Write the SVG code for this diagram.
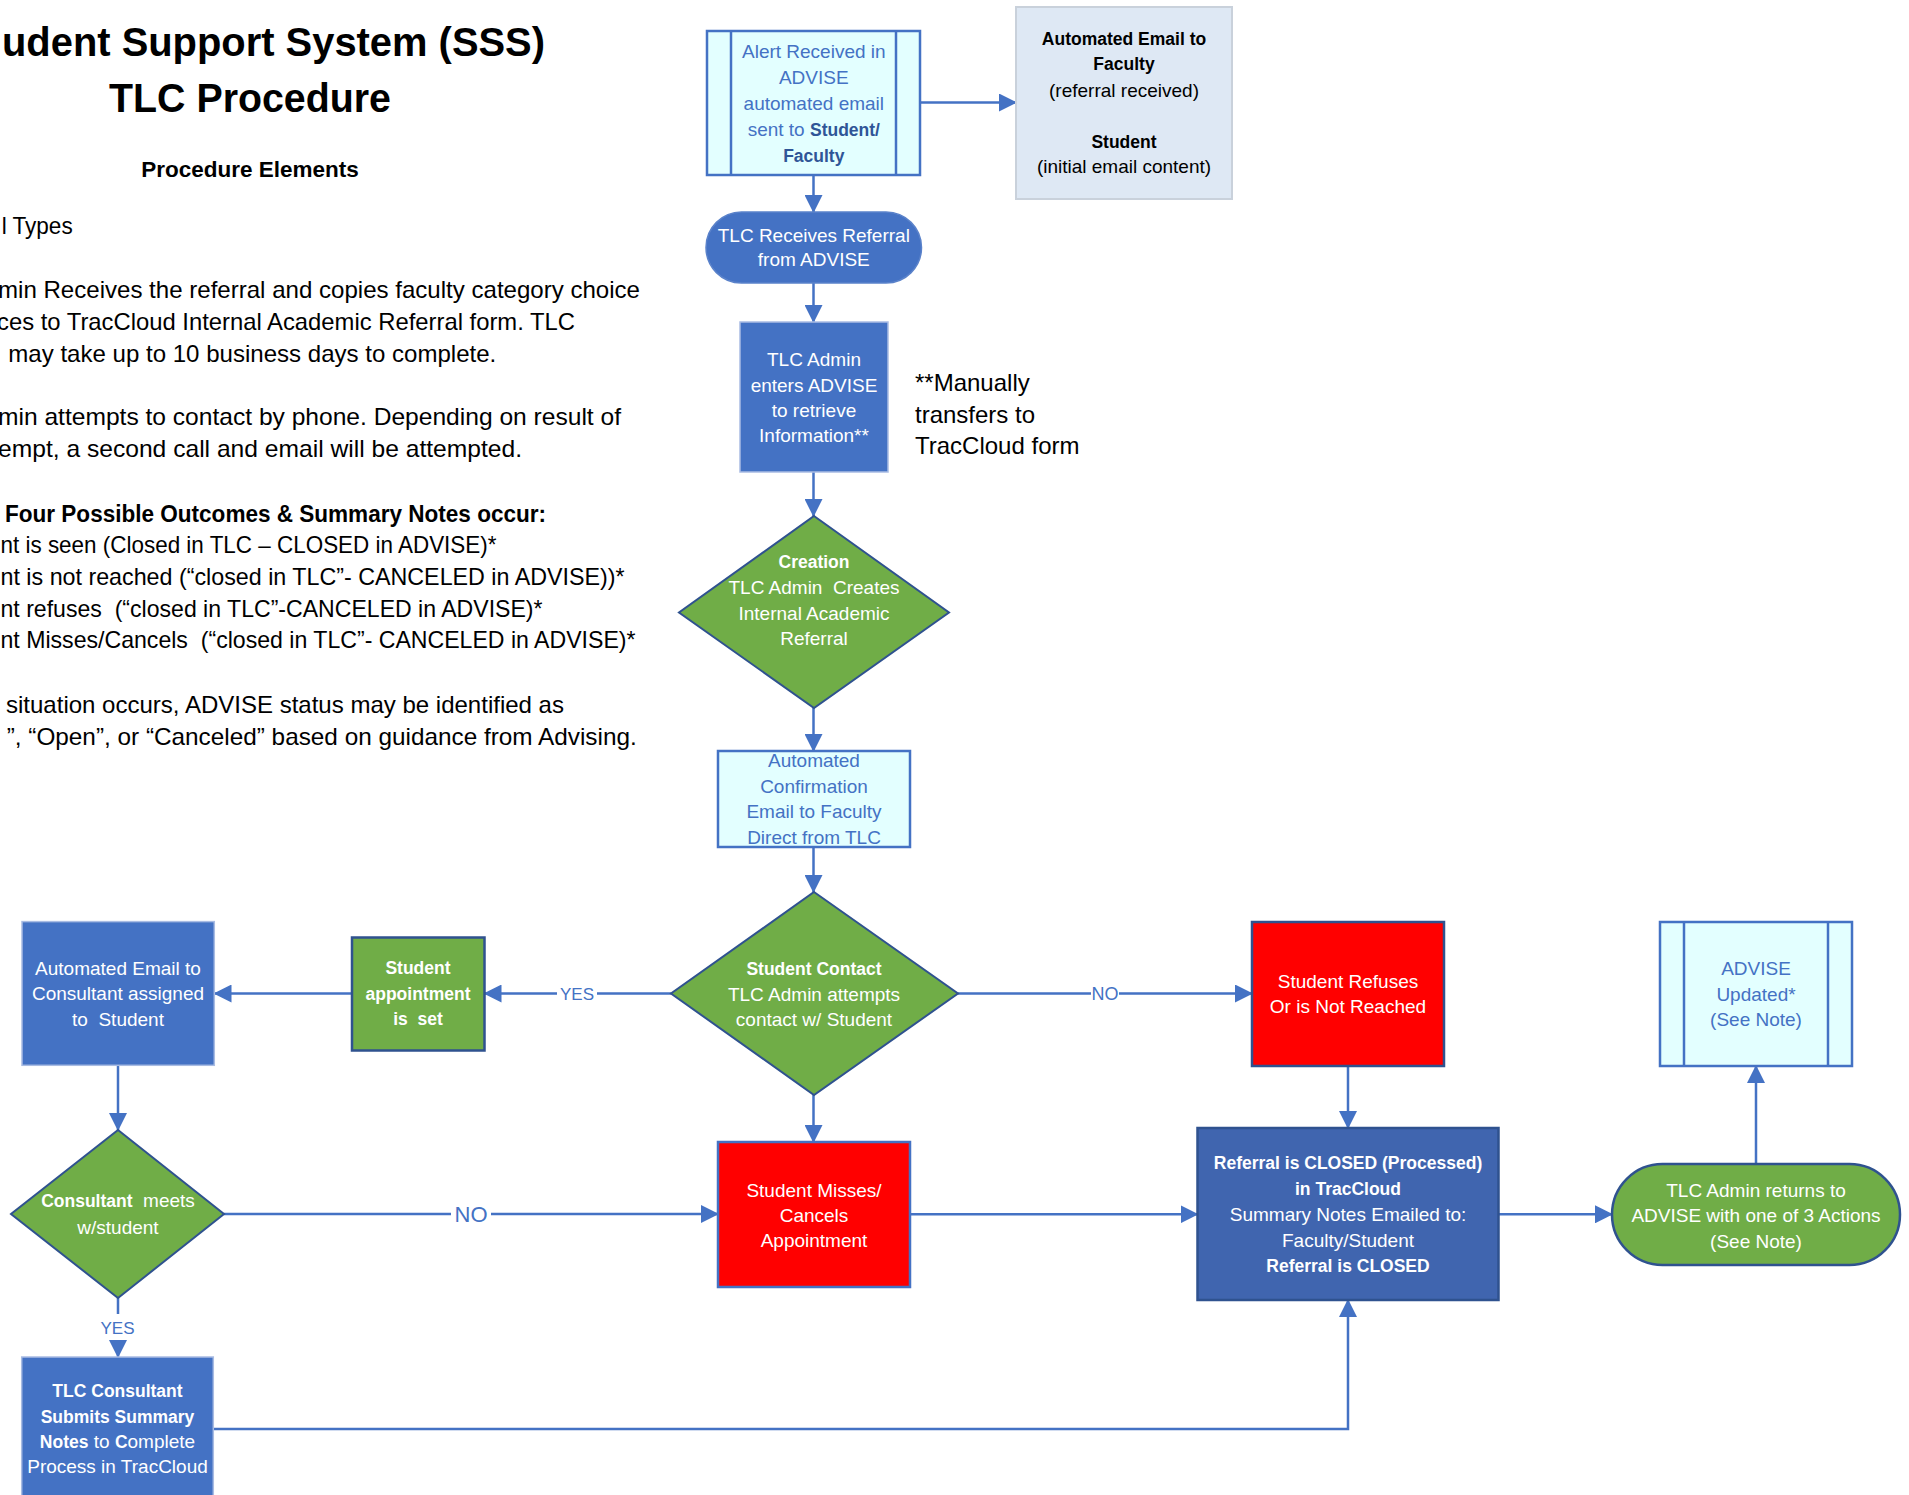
<svg xmlns="http://www.w3.org/2000/svg" width="1909" height="1495" viewBox="0 0 1909 1495">
<style>
text { font-family: "Liberation Sans", Arial, sans-serif; white-space: pre; }
.lt { font-size: 24px; fill: #000; }
.nt { font-size: 19px; text-anchor: middle; }
.b { font-weight: bold; font-size: 17.5px; }
.w { fill: #fff; }
.bl { fill: #4472C4; }
.db { fill: #2F5597; }
.k { fill: #000; }
.conn { stroke: #4472C4; stroke-width: 2.5; fill: none; marker-end: url(#ah); }
.lbl { fill: #4472C4; text-anchor: middle; }
.cyan { fill: #E3FFFF; stroke: #4472C4; stroke-width: 2.5; }
.blue { fill: #4472C4; stroke: #A9BCE3; stroke-width: 1.5; }
.green { fill: #70AD47; stroke: #2F528F; stroke-width: 2; }
.red { fill: #FF0000; stroke-width: 2.5; }
</style>
<defs>
<marker id="ah" markerUnits="userSpaceOnUse" markerWidth="18" markerHeight="18" refX="17" refY="9" orient="auto">
<path d="M0,0 L18,9 L0,18 z" fill="#4472C4"/>
</marker>
</defs>
<rect width="1909" height="1495" fill="#fff"/>

<g id="legend">
<text x="2" y="56" font-size="40" font-weight="bold" textLength="543" lengthAdjust="spacingAndGlyphs">udent Support System (SSS)</text>
<text x="109" y="112" font-size="40" font-weight="bold" textLength="282" lengthAdjust="spacingAndGlyphs">TLC Procedure</text>
<text x="250" y="177" font-size="22.5" font-weight="bold" text-anchor="middle">Procedure Elements</text>
<text class="lt" x="1.7" y="234" textLength="71" lengthAdjust="spacingAndGlyphs">l Types</text>
<text class="lt" x="-2" y="298" textLength="642" lengthAdjust="spacingAndGlyphs">min Receives the referral and copies faculty category choice</text>
<text class="lt" x="-3" y="330" textLength="578" lengthAdjust="spacingAndGlyphs">ces to TracCloud Internal Academic Referral form. TLC</text>
<text class="lt" x="8.3" y="362" textLength="488" lengthAdjust="spacingAndGlyphs">may take up to 10 business days to complete.</text>
<text class="lt" x="-2" y="425" textLength="623" lengthAdjust="spacingAndGlyphs">min attempts to contact by phone. Depending on result of</text>
<text class="lt" x="-2" y="457" textLength="524" lengthAdjust="spacingAndGlyphs">empt, a second call and email will be attempted.</text>
<text class="lt" x="5" y="522" font-weight="bold" textLength="541" lengthAdjust="spacingAndGlyphs">Four Possible Outcomes &amp; Summary Notes occur:</text>
<text class="lt" x="0.5" y="553" textLength="496" lengthAdjust="spacingAndGlyphs">nt is seen (Closed in TLC – CLOSED in ADVISE)*</text>
<text class="lt" x="0.5" y="585" textLength="624" lengthAdjust="spacingAndGlyphs">nt is not reached (“closed in TLC”- CANCELED in ADVISE))*</text>
<text class="lt" x="0.5" y="617" textLength="542" lengthAdjust="spacingAndGlyphs">nt refuses  (“closed in TLC”-CANCELED in ADVISE)*</text>
<text class="lt" x="0.5" y="648" textLength="635" lengthAdjust="spacingAndGlyphs">nt Misses/Cancels  (“closed in TLC”- CANCELED in ADVISE)*</text>
<text class="lt" x="6" y="713" textLength="558" lengthAdjust="spacingAndGlyphs">situation occurs, ADVISE status may be identified as</text>
<text class="lt" x="6.7" y="745" textLength="630" lengthAdjust="spacingAndGlyphs">”, “Open”, or “Canceled” based on guidance from Advising.</text>
</g>

<g id="connectors">
<path class="conn" d="M920,102.5 H1016"/>
<path class="conn" d="M813.5,175 V212"/>
<path class="conn" d="M813.5,283 V322"/>
<path class="conn" d="M813.5,472 V516"/>
<path class="conn" d="M813.5,708 V751"/>
<path class="conn" d="M813.5,847 V892"/>
<path class="conn" d="M671,993.5 H597 M557,993.5 H484.5"/>
<text class="lbl" x="577" y="999.5" font-size="17">YES</text>
<path class="conn" d="M352,993.5 H214.5"/>
<path class="conn" d="M118,1065.5 V1130"/>
<path class="conn" d="M224,1214 H451 M491,1214 H718"/>
<text class="lbl" x="471" y="1222" font-size="22">NO</text>
<path class="conn" d="M118,1298 V1314 M118,1341 V1357"/>
<text class="lbl" x="117.5" y="1334" font-size="17">YES</text>
<path class="conn" d="M813.5,1095 V1142"/>
<path class="conn" d="M958,993.5 H1091 M1119,993.5 H1252"/>
<text class="lbl" x="1105" y="1000" font-size="18">NO</text>
<path class="conn" d="M1348,1066 V1128"/>
<path class="conn" d="M910,1214.3 H1197.5"/>
<path class="conn" d="M1498.5,1214.3 H1612"/>
<path class="conn" d="M1756,1164 V1066"/>
<path class="conn" d="M213.3,1429 H1348 V1300"/>
</g>

<g id="alert">
<rect class="cyan" x="707" y="31" width="213" height="144"/>
<line x1="731" y1="31" x2="731" y2="175" stroke="#4472C4" stroke-width="2.5"/>
<line x1="896" y1="31" x2="896" y2="175" stroke="#4472C4" stroke-width="2.5"/>
<text class="nt bl" x="813.8" y="58.2">Alert Received in</text>
<text class="nt bl" x="813.8" y="84.2">ADVISE</text>
<text class="nt bl" x="813.8" y="109.8">automated email</text>
<text class="nt bl" x="813.8" y="135.5">sent to <tspan class="b db">Student/</tspan></text>
<text class="nt b db" x="813.8" y="161.5">Faculty</text>
</g>

<g id="email">
<rect x="1016" y="7" width="216" height="192" fill="#DEE8F4" stroke="#C9D1DB" stroke-width="2"/>
<text class="nt b k" x="1124" y="45">Automated Email to</text>
<text class="nt b k" x="1124" y="70.3">Faculty</text>
<text class="nt k" x="1124" y="97.2">(referral received)</text>
<text class="nt b k" x="1124" y="147.7">Student</text>
<text class="nt k" x="1124" y="173.2">(initial email content)</text>
</g>

<g id="tlc-receives">
<rect x="706" y="212" width="215.5" height="71" rx="35.5" ry="35.5" fill="#4472C4" stroke="#5A82CA" stroke-width="1.5"/>
<text class="nt w" x="813.8" y="241.5">TLC Receives Referral</text>
<text class="nt w" x="813.8" y="265.8">from ADVISE</text>
</g>

<g id="tlc-admin">
<rect class="blue" x="740" y="322" width="148" height="150"/>
<text class="nt w" x="814" y="365.5">TLC Admin</text>
<text class="nt w" x="814" y="391.5">enters ADVISE</text>
<text class="nt w" x="814" y="416.5">to retrieve</text>
<text class="nt w" x="814" y="442.2">Information**</text>
</g>

<g id="manual-note">
<text x="915" y="391" font-size="24" class="k">**Manually</text>
<text x="915" y="423" font-size="24" class="k">transfers to</text>
<text x="915" y="454" font-size="24" class="k">TracCloud form</text>
</g>

<g id="creation">
<polygon class="green" points="814,516 949,612.5 814,708 679,612.5"/>
<text class="nt b w" x="814" y="567.7">Creation</text>
<text class="nt w" x="814" y="593.8">TLC Admin  Creates</text>
<text class="nt w" x="814" y="619.8">Internal Academic</text>
<text class="nt w" x="814" y="644.8">Referral</text>
</g>

<g id="confirmation">
<rect class="cyan" x="718" y="751" width="192" height="96"/>
<text class="nt bl" x="814" y="767.2">Automated</text>
<text class="nt bl" x="814" y="792.5">Confirmation</text>
<text class="nt bl" x="814" y="818.2">Email to Faculty</text>
<text class="nt bl" x="814" y="843.8">Direct from TLC</text>
</g>

<g id="student-contact">
<polygon class="green" points="814,892 958,993.5 814,1095 671,993.5"/>
<text class="nt b w" x="814" y="975">Student Contact</text>
<text class="nt w" x="814" y="1000.8">TLC Admin attempts</text>
<text class="nt w" x="814" y="1025.8">contact w/ Student</text>
</g>

<g id="appointment">
<rect x="352" y="937.5" width="132.5" height="113" fill="#70AD47" stroke="#2F528F" stroke-width="2.5"/>
<text class="nt b w" x="418" y="974">Student</text>
<text class="nt b w" x="418" y="999.5">appointment</text>
<text class="nt b w" x="418" y="1025">is  set</text>
</g>

<g id="auto-email-consultant">
<rect class="blue" x="22" y="921.6" width="192.3" height="143.7"/>
<text class="nt w" x="118" y="974.5">Automated Email to</text>
<text class="nt w" x="118" y="1000">Consultant assigned</text>
<text class="nt w" x="118" y="1025.5">to  Student</text>
</g>

<g id="consultant-meets">
<polygon class="green" points="118,1130 224,1214 118,1298 11,1214"/>
<text class="nt w" x="118" y="1207"><tspan class="b">Consultant</tspan>  meets</text>
<text class="nt w" x="118" y="1233.7">w/student</text>
</g>

<g id="tlc-consultant">
<rect class="blue" x="21.7" y="1357" width="191.6" height="145"/>
<text class="nt b w" x="117.5" y="1396.7">TLC Consultant</text>
<text class="nt b w" x="117.5" y="1422.7">Submits Summary</text>
<text class="nt w" x="117.5" y="1448"><tspan class="b">Notes</tspan> to <tspan class="b">C</tspan>omplete</text>
<text class="nt w" x="117.5" y="1473.2">Process in TracCloud</text>
</g>

<g id="student-misses">
<rect class="red" x="718" y="1142" width="192" height="145" stroke="#4472C4"/>
<text class="nt w" x="814" y="1196.5">Student Misses/</text>
<text class="nt w" x="814" y="1221.5">Cancels</text>
<text class="nt w" x="814" y="1246.5">Appointment</text>
</g>

<g id="student-refuses">
<rect class="red" x="1252" y="922" width="192" height="144" stroke="#2F528F"/>
<text class="nt w" x="1348" y="988.2">Student Refuses</text>
<text class="nt w" x="1348" y="1013.2">Or is Not Reached</text>
</g>

<g id="referral-closed">
<rect x="1197.5" y="1128" width="301" height="172" fill="#4065AF" stroke="#2F528F" stroke-width="2.5"/>
<text class="nt b w" x="1348" y="1169.3">Referral is CLOSED (Processed)</text>
<text class="nt b w" x="1348" y="1195.3">in TracCloud</text>
<text class="nt w" x="1348" y="1220.8">Summary Notes Emailed to:</text>
<text class="nt w" x="1348" y="1247.2">Faculty/Student</text>
<text class="nt b w" x="1348" y="1271.7">Referral is CLOSED</text>
</g>

<g id="admin-returns">
<rect x="1612" y="1164" width="288" height="101" rx="50.5" ry="50.5" fill="#70AD47" stroke="#2F528F" stroke-width="2.5"/>
<text class="nt w" x="1756" y="1196.5">TLC Admin returns to</text>
<text class="nt w" x="1756" y="1221.5">ADVISE with one of 3 Actions</text>
<text class="nt w" x="1756" y="1247.5">(See Note)</text>
</g>

<g id="advise-updated">
<rect class="cyan" x="1660" y="922" width="192" height="144"/>
<line x1="1684" y1="922" x2="1684" y2="1066" stroke="#4472C4" stroke-width="2.5"/>
<line x1="1828" y1="922" x2="1828" y2="1066" stroke="#4472C4" stroke-width="2.5"/>
<text class="nt bl" x="1756" y="974.8">ADVISE</text>
<text class="nt bl" x="1756" y="1000.8">Updated*</text>
<text class="nt bl" x="1756" y="1025.8">(See Note)</text>
</g>
</svg>
